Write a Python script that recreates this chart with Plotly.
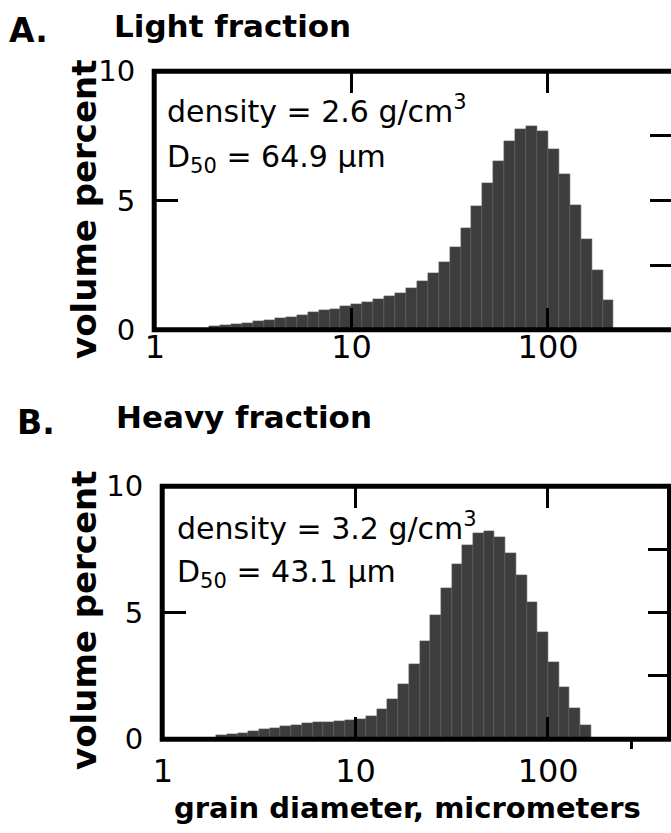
import numpy as np
import plotly.graph_objects as go

W, H = 671, 833

# ---- data ----
diameter_um = [2.021, 2.297, 2.610, 2.967, 3.372, 3.831, 4.354, 4.948, 5.623, 6.391,
               7.263, 8.254, 9.380, 10.66, 12.12, 13.77, 15.65, 17.78, 20.21, 22.97,
               26.10, 29.67, 33.72, 38.31, 43.54, 49.48, 56.23, 63.91, 72.63, 82.54,
               93.80, 106.6, 121.2, 137.7, 156.5, 177.8, 202.1]
light_pct = [0.14, 0.19, 0.23, 0.27, 0.31, 0.36, 0.43, 0.49, 0.57, 0.66,
             0.74, 0.81, 0.90, 0.98, 1.07, 1.17, 1.29, 1.42, 1.59, 1.86,
             2.18, 2.62, 3.19, 3.91, 4.78, 5.65, 6.52, 7.30, 7.76, 7.89,
             7.68, 6.99, 6.00, 4.80, 3.52, 2.32, 1.13]
heavy_pct = [0.14, 0.19, 0.25, 0.31, 0.38, 0.44, 0.51, 0.57, 0.63, 0.67,
             0.69, 0.71, 0.75, 0.78, 0.92, 1.18, 1.58, 2.18, 2.97, 3.88,
             4.92, 5.96, 6.91, 7.66, 8.14, 8.24, 7.98, 7.37, 6.48, 5.40,
             4.22, 3.06, 2.04, 1.21, 0.57]
x_tick_vals = [1, 10, 100]
x_tick_text = ["1", "10", "100"]
y_tick_vals = [0, 5, 10]
y_tick_text = ["0", "5", "10"]
y_right_ticks = [2.5, 5, 7.5]
extra_tick_b = [270]

FONT = "DejaVu Sans"
BAR = "#3d3d3d"
Y_MAX = 10

logd = np.log10(diameter_um)
bw = float(np.diff(logd).mean())
xt = [float(v) for v in np.log10(x_tick_vals)]

def px_x(v):
    return v / W

def px_y(v):
    return 1 - v / H

# panel geometry (pixel positions of frame line centres)
A_px_x = (154.2, 671.0)
B_px_x = (162.2, 669.5)
A_px_y = (71.2, 329.7)
B_px_y = (486.2, 739.2)
A_dom_x = [px_x(A_px_x[0]), px_x(A_px_x[1])]
A_dom_y = [px_y(A_px_y[1]), px_y(A_px_y[0])]
B_dom_x = [px_x(B_px_x[0]), px_x(B_px_x[1])]
B_dom_y = [px_y(B_px_y[1]), px_y(B_px_y[0])]
A_range = [-0.004, 2.625]
B_range = [-0.004, 2.63]

fig = go.Figure()
bar_style = dict(color=BAR, line=dict(color="#5e5e5e", width=0.6))
fig.add_trace(go.Bar(x=logd[:len(light_pct)], y=light_pct, width=bw, marker=bar_style,
                     xaxis="x", yaxis="y", showlegend=False, hoverinfo="x+y"))
fig.add_trace(go.Bar(x=logd[:len(heavy_pct)], y=heavy_pct, width=bw, marker=bar_style,
                     xaxis="x3", yaxis="y3", showlegend=False, hoverinfo="x+y"))

# inside x ticks (bottom and top): thin black bars on each panel's own scales
for xa, ya, (pl, pr), (ptop, pbot), rng in [("x", "y", A_px_x, A_px_y, A_range),
                                            ("x3", "y3", B_px_x, B_px_y, B_range)]:
    tl = 22.0 * Y_MAX / (pbot - ptop)             # 22 px in y units
    tw = 3.0 * (rng[1] - rng[0]) / (pr - pl)      # 3 px in x units
    fig.add_trace(go.Bar(x=xt + xt, y=[tl] * len(xt) * 2,
                         base=[0] * len(xt) + [Y_MAX - tl] * len(xt),
                         width=tw, marker=dict(color="black", line=dict(width=0)),
                         xaxis=xa, yaxis=ya, showlegend=False, hoverinfo="skip"))

# invisible helpers so every tick-only overlay axis gets a subplot
for xa, ya in [("x", "y2"), ("x3", "y4"), ("x5", "y3"), ("x", "y5"), ("x3", "y6")]:
    fig.add_trace(go.Scatter(x=[None], y=[None], xaxis=xa, yaxis=ya,
                             showlegend=False, hoverinfo="skip"))

base = dict(showline=False, showgrid=False, zeroline=False, automargin=False)
lab_x = dict(tickmode="array", tickvals=xt, ticktext=x_tick_text, ticks="",
             tickfont=dict(family=FONT, size=32, color="black"), **base)
lab_y = dict(range=[0, Y_MAX], tickmode="array", tickvals=y_tick_vals, ticktext=y_tick_text,
             ticks="", tickfont=dict(family=FONT, size=29, color="black"),
             ticklabelstandoff=18, **base)
tick_common = dict(tickmode="array", tickwidth=3, tickcolor="black",
                   showticklabels=False, **base)

def tick_y(over, side, pos, vals, ticklen=22):
    # ticks drawn "outside" of a free axis placed on the frame edge -> point inward
    return dict(overlaying=over, anchor="free", position=pos, range=[0, Y_MAX], side=side,
                tickvals=vals, ticks="outside", ticklen=ticklen, **tick_common)

fig.update_layout(
    template="none",
    width=W, height=H, margin=dict(l=0, r=0, t=0, b=0, pad=0, autoexpand=False),
    paper_bgcolor="white", plot_bgcolor="rgba(0,0,0,0)",
    barmode="overlay", bargap=0, showlegend=False,
    # panel A
    xaxis=dict(domain=A_dom_x, range=A_range, anchor="y", ticklabelstandoff=-5, **lab_x),
    yaxis=dict(domain=A_dom_y, anchor="x", **lab_y),
    yaxis5=tick_y("y", "right", A_dom_x[0], y_tick_vals, 23),
    yaxis2=tick_y("y", "left", A_dom_x[1], y_right_ticks, 21),
    # panel B
    xaxis3=dict(domain=B_dom_x, range=B_range, anchor="y3", ticklabelstandoff=10, **lab_x),
    yaxis3=dict(domain=B_dom_y, anchor="x3", **lab_y),
    xaxis5=dict(overlaying="x3", anchor="free", position=B_dom_y[0], range=B_range,
                side="bottom", tickvals=[float(np.log10(extra_tick_b[0]))],
                ticks="outside", ticklen=9, **tick_common),
    yaxis6=tick_y("y3", "right", B_dom_x[0], y_tick_vals, 23),
    yaxis4=tick_y("y3", "left", B_dom_x[1], y_right_ticks, 22),
)

# frames
ax0, ax1 = A_dom_x
ay0, ay1 = A_dom_y
fig.add_shape(type="path", xref="paper", yref="paper",
              path=f"M 1.02,{ay1} L {ax0},{ay1} L {ax0},{ay0} L 1.02,{ay0}",
              line=dict(color="black", width=5), layer="above")
fig.add_shape(type="rect", xref="paper", yref="paper",
              x0=B_dom_x[0], x1=B_dom_x[1], y0=B_dom_y[0], y1=B_dom_y[1],
              line=dict(color="black", width=5), layer="above")

def ann(text, x, y, size, xanchor="left", angle=0):
    fig.add_annotation(text=text, x=px_x(x), y=px_y(y), xref="paper", yref="paper",
                       xanchor=xanchor, yanchor="middle", showarrow=False,
                       textangle=angle,
                       font=dict(family=FONT, size=size, color="black"))

ann("<b>A.</b>", 7, 30, 33)
ann("<b>Light fraction</b>", 112, 26, 31)
ann("<b>B.</b>", 15, 422, 33)
ann("<b>Heavy fraction</b>", 114, 417, 31)
ann("density = 2.6 g/cm<sup>3</sup>", 165, 109, 30)
ann("D<sub>50</sub> = 64.9 µm", 165, 158, 30)
ann("density = 3.2 g/cm<sup>3</sup>", 175, 526, 30)
ann("D<sub>50</sub> = 43.1 µm", 175, 573, 30)
ann("<b>volume percent</b>", 84, 209, 34, xanchor="center", angle=-90)
ann("<b>volume percent</b>", 84, 620, 34, xanchor="center", angle=-90)
ann("<b>grain diameter, micrometers</b>", 407, 808, 29, xanchor="center")

fig.write_html("out.html")
